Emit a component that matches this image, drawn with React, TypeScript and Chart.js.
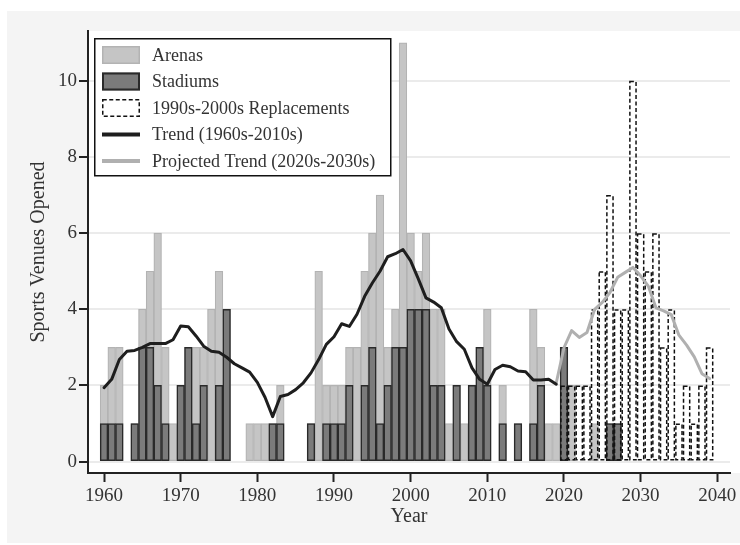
import React, { useEffect, useRef } from 'react';
import { Chart, registerables } from 'chart.js';

Chart.register(...registerables);

const FONT = "'Liberation Serif', 'DejaVu Serif', serif";

// Years with at least one venue opened (1960-2027)
const barYears = [
  1960, 1961, 1962, 1964, 1965, 1966, 1967, 1968, 1969, 1970, 1971, 1972, 1973, 1974, 1975, 1976,
  1979, 1980, 1981, 1982, 1983, 1987, 1988, 1989, 1990, 1991, 1992, 1993, 1994, 1995, 1996, 1997,
  1998, 1999, 2000, 2001, 2002, 2003, 2004, 2005, 2006, 2007, 2008, 2009, 2010, 2012, 2014, 2016,
  2017, 2018, 2019, 2020, 2021, 2024, 2026, 2027,
];
// Height of the light (arena) bar = all venues opened that year
const arenaBars = [
  2, 3, 3, 1, 4, 5, 6, 3, 1, 2, 3, 3, 3, 4, 5, 4,
  1, 1, 1, 1, 2, 1, 5, 2, 2, 2, 3, 3, 5, 6, 7, 3,
  4, 11, 6, 5, 6, 4, 4, 1, 2, 1, 2, 3, 4, 2, 1, 4,
  3, 1, 1, 3, 2, 1, 1, 1,
];
// Height of the dark (stadium) bar
const stadiumBars = [
  1, 1, 1, 1, 3, 3, 2, 1, 0, 2, 3, 1, 2, 0, 2, 4,
  0, 0, 0, 1, 1, 1, 0, 1, 1, 1, 2, 0, 2, 3, 1, 2,
  3, 3, 4, 4, 4, 2, 2, 0, 2, 0, 2, 3, 2, 1, 1, 1,
  2, 0, 0, 3, 0, 0, 1, 1,
];

const replacementYears = [
  2020, 2021, 2022, 2023, 2024, 2025, 2026, 2027, 2028, 2029,
  2030, 2031, 2032, 2033, 2034, 2035, 2036, 2037, 2038, 2039,
];
const replacements = [2, 2, 2, 2, 4, 5, 7, 4, 4, 10, 6, 5, 6, 3, 4, 1, 2, 1, 2, 3];

const trendYears = [
  1960, 1961, 1962, 1963, 1964, 1965, 1966, 1967, 1968, 1969,
  1970, 1971, 1972, 1973, 1974, 1975, 1976, 1977, 1978, 1979,
  1980, 1981, 1982, 1983, 1984, 1985, 1986, 1987, 1988, 1989,
  1990, 1991, 1992, 1993, 1994, 1995, 1996, 1997, 1998, 1999,
  2000, 2001, 2002, 2003, 2004, 2005, 2006, 2007, 2008, 2009,
  2010, 2011, 2012, 2013, 2014, 2015, 2016, 2017, 2018, 2019,
];
const trend = [
  1.94, 2.16, 2.68, 2.9, 2.92, 3.0, 3.1, 3.1, 3.1, 3.2,
  3.56, 3.54, 3.3, 3.03, 2.9, 2.87, 2.74, 2.57, 2.46, 2.35,
  2.08, 1.69, 1.18, 1.71, 1.76, 1.89, 2.07, 2.33, 2.68, 3.08,
  3.28, 3.62, 3.55, 3.87, 4.34, 4.69, 5.0, 5.38, 5.46, 5.57,
  5.27, 4.8, 4.3, 4.19, 4.04, 3.48, 3.15, 2.95, 2.46, 2.16,
  2.03, 2.42, 2.53, 2.49, 2.38, 2.36, 2.14, 2.14, 2.16, 2.03,
];

const projectedYears = [
  2019, 2020, 2021, 2022, 2023, 2024, 2025, 2026, 2027, 2028, 2029,
  2030, 2031, 2032, 2033, 2034, 2035, 2036, 2037, 2038, 2039,
];
const projectedTrend = [
  2.07, 2.99, 3.44, 3.26, 3.39, 4.0, 4.18, 4.44, 4.84, 4.97, 5.1,
  4.88, 4.61, 4.04, 3.96, 3.86, 3.32, 3.06, 2.75, 2.31, 2.18,
];

const xTicks = [1960, 1970, 1980, 1990, 2000, 2010, 2020, 2030, 2040];
const yTicks = [0, 2, 4, 6, 8, 10];

const legendItems = [
  { label: 'Arenas', kind: 'arena' },
  { label: 'Stadiums', kind: 'stadium' },
  { label: '1990s-2000s Replacements', kind: 'dashed' },
  { label: 'Trend (1960s-2010s)', kind: 'trend' },
  { label: 'Projected Trend (2020s-2030s)', kind: 'projected' },
];

const COLORS = {
  arenaFill: '#c5c5c5',
  arenaBorder: '#b3b3b3',
  stadiumFill: '#7b7b7b',
  stadiumBorder: '#2a2a2a',
  dashed: '#111111',
  trend: '#1e1e1e',
  projected: '#b0b0b0',
  text: '#333333',
  axis: '#222222',
  grid: '#ebebeb',
  panel: '#f4f4f4',
};

const backgroundPlugin = {
  id: 'panelBackground',
  beforeDraw(chart: any) {
    const { ctx, chartArea, width, height } = chart;
    ctx.save();
    ctx.fillStyle = '#ffffff';
    ctx.fillRect(0, 0, width, height);
    ctx.fillStyle = COLORS.panel;
    ctx.fillRect(7, 11, width - 7, height - 13);
    ctx.fillStyle = '#ffffff';
    ctx.fillRect(chartArea.left, chartArea.top, width - chartArea.left, chartArea.bottom - chartArea.top);
    ctx.restore();
  },
};

const dashedBarsPlugin = {
  id: 'dashedBars',
  afterDatasetDraw(chart: any, args: any) {
    const ds: any = chart.data.datasets[args.index];
    if (!ds.dashedOutline) return;
    const ctx = chart.ctx;
    ctx.save();
    ctx.strokeStyle = COLORS.dashed;
    ctx.lineWidth = 1.5;
    ctx.setLineDash([4, 2.5]);
    args.meta.data.forEach((el: any) => {
      const { x, y, base, width } = el.getProps(['x', 'y', 'base', 'width'], true);
      const l = x - width / 2 + 0.75;
      const r = x + width / 2 - 0.75;
      ctx.strokeRect(l, y + 0.75, r - l, base - y - 1.5);
    });
    ctx.restore();
  },
};

const legendPlugin = {
  id: 'boxLegend',
  afterDraw(chart: any) {
    const { ctx, chartArea } = chart;
    const left = chartArea.left + 6;
    const top = chartArea.top + 7;
    const w = 297.5;
    const h = 138.5;
    ctx.save();
    ctx.fillStyle = '#ffffff';
    ctx.fillRect(left, top, w, h);
    ctx.strokeStyle = '#111111';
    ctx.lineWidth = 1.5;
    ctx.strokeRect(left + 0.75, top + 0.75, w - 1.5, h - 1.5);
    const symL = left + 8;
    const symW = 38;
    legendItems.forEach((item, i) => {
      const cy = top + 17 + i * 26.5;
      if (item.kind === 'arena') {
        ctx.fillStyle = COLORS.arenaFill;
        ctx.fillRect(symL, cy - 9, symW, 18);
        ctx.strokeStyle = COLORS.arenaBorder;
        ctx.lineWidth = 1.5;
        ctx.strokeRect(symL + 0.75, cy - 8.25, symW - 1.5, 16.5);
      } else if (item.kind === 'stadium') {
        ctx.fillStyle = COLORS.stadiumFill;
        ctx.fillRect(symL, cy - 9, symW, 18);
        ctx.strokeStyle = COLORS.stadiumBorder;
        ctx.lineWidth = 2;
        ctx.strokeRect(symL + 1, cy - 8, symW - 2, 16);
      } else if (item.kind === 'dashed') {
        ctx.strokeStyle = COLORS.dashed;
        ctx.lineWidth = 1.5;
        ctx.setLineDash([4, 2.5]);
        ctx.strokeRect(symL + 0.75, cy - 8.25, symW - 1.5, 16.5);
        ctx.setLineDash([]);
      } else {
        ctx.strokeStyle = item.kind === 'trend' ? COLORS.trend : COLORS.projected;
        ctx.lineWidth = 4;
        ctx.beginPath();
        ctx.moveTo(symL, cy);
        ctx.lineTo(symL + symW, cy);
        ctx.stroke();
      }
      ctx.fillStyle = COLORS.text;
      ctx.font = `18px ${FONT}`;
      ctx.textAlign = 'left';
      ctx.textBaseline = 'middle';
      ctx.fillText(item.label, left + 58, cy + 1);
    });
    ctx.restore();
  },
};

export default function App() {
  const canvasRef = useRef<HTMLCanvasElement | null>(null);

  useEffect(() => {
    const canvas = canvasRef.current;
    if (!canvas) return;

    const arenaData = barYears.map((x, i) => ({ x, y: arenaBars[i] })).filter((p) => p.y > 0);
    const stadiumData = barYears.map((x, i) => ({ x, y: stadiumBars[i] })).filter((p) => p.y > 0);
    const replacementData = replacementYears.map((x, i) => ({ x, y: replacements[i] }));
    const trendData = trendYears.map((x, i) => ({ x, y: trend[i] }));
    const projectedData = projectedYears.map((x, i) => ({ x, y: projectedTrend[i] }));

    const barCommon = { grouped: false, barPercentage: 1, categoryPercentage: 1, borderSkipped: false };

    const chart = new Chart(canvas, {
      type: 'bar',
      data: {
        datasets: [
          {
            type: 'line',
            label: 'Trend (1960s-2010s)',
            data: trendData,
            borderColor: COLORS.trend,
            borderWidth: 3,
            pointRadius: 0,
            tension: 0,
            borderJoinStyle: 'round',
            borderCapStyle: 'round',
            order: 0,
          } as any,
          {
            type: 'line',
            label: 'Projected Trend (2020s-2030s)',
            data: projectedData,
            borderColor: COLORS.projected,
            borderWidth: 3,
            pointRadius: 0,
            tension: 0,
            borderJoinStyle: 'round',
            borderCapStyle: 'round',
            order: 1,
          } as any,
          {
            type: 'bar',
            label: '1990s-2000s Replacements',
            data: replacementData,
            backgroundColor: 'rgba(0,0,0,0)',
            borderWidth: 0,
            dashedOutline: true,
            order: 2,
            ...barCommon,
          } as any,
          {
            type: 'bar',
            label: 'Stadiums',
            data: stadiumData,
            backgroundColor: COLORS.stadiumFill,
            borderColor: COLORS.stadiumBorder,
            borderWidth: 1.5,
            order: 3,
            ...barCommon,
          } as any,
          {
            type: 'bar',
            label: 'Arenas',
            data: arenaData,
            backgroundColor: COLORS.arenaFill,
            borderColor: COLORS.arenaBorder,
            borderWidth: 1.2,
            order: 4,
            ...barCommon,
          } as any,
        ],
      },
      options: {
        responsive: false,
        animation: false,
        devicePixelRatio: 1,
        layout: { padding: { left: 0, top: 31, right: 10, bottom: 0 } },
        plugins: {
          legend: { display: false },
          tooltip: { enabled: false },
        },
        scales: {
          x: {
            type: 'linear',
            min: 1957.91,
            max: 2041.66,
            offset: false,
            afterBuildTicks: (s: any) => {
              s.ticks = xTicks.map((v) => ({ value: v }));
            },
            afterFit: (s: any) => {
              s.height = 72;
            },
            grid: {
              display: true,
              drawOnChartArea: false,
              drawTicks: true,
              tickLength: 9,
              tickColor: COLORS.axis,
              tickWidth: 2,
              offset: false,
            },
            border: { display: true, color: COLORS.axis, width: 2 },
            ticks: {
              font: { family: FONT, size: 19 },
              color: COLORS.text,
              padding: 3,
              maxRotation: 0,
              autoSkip: false,
              callback: (v: any) => String(v),
            },
            title: {
              display: true,
              text: 'Year',
              font: { family: FONT, size: 20 },
              color: COLORS.text,
              padding: { top: 0, bottom: 16 },
            },
          },
          y: {
            type: 'linear',
            min: -0.3,
            max: 11.31,
            afterBuildTicks: (s: any) => {
              s.ticks = yTicks.map((v) => ({ value: v }));
            },
            afterFit: (s: any) => {
              s.width = 88;
            },
            grid: {
              color: COLORS.grid,
              lineWidth: 2,
              drawTicks: true,
              tickLength: 9,
              tickColor: COLORS.axis,
              tickWidth: 2,
            },
            border: { display: true, color: COLORS.axis, width: 2 },
            ticks: {
              font: { family: FONT, size: 19 },
              color: COLORS.text,
              padding: 2,
              callback: (v: any) => String(v),
            },
            title: {
              display: true,
              text: 'Sports Venues Opened',
              font: { family: FONT, size: 20 },
              color: COLORS.text,
              padding: { top: 27, bottom: 0 },
            },
          },
        },
      } as any,
      plugins: [backgroundPlugin, dashedBarsPlugin, legendPlugin],
    });

    return () => {
      chart.destroy();
    };
  }, []);

  return (
    <div style={{ position: 'fixed', left: 0, top: 0, width: 740, height: 545, background: '#fff' }}>
      <canvas ref={canvasRef} width={740} height={545} style={{ display: 'block', width: 740, height: 545 }} />
    </div>
  );
}
